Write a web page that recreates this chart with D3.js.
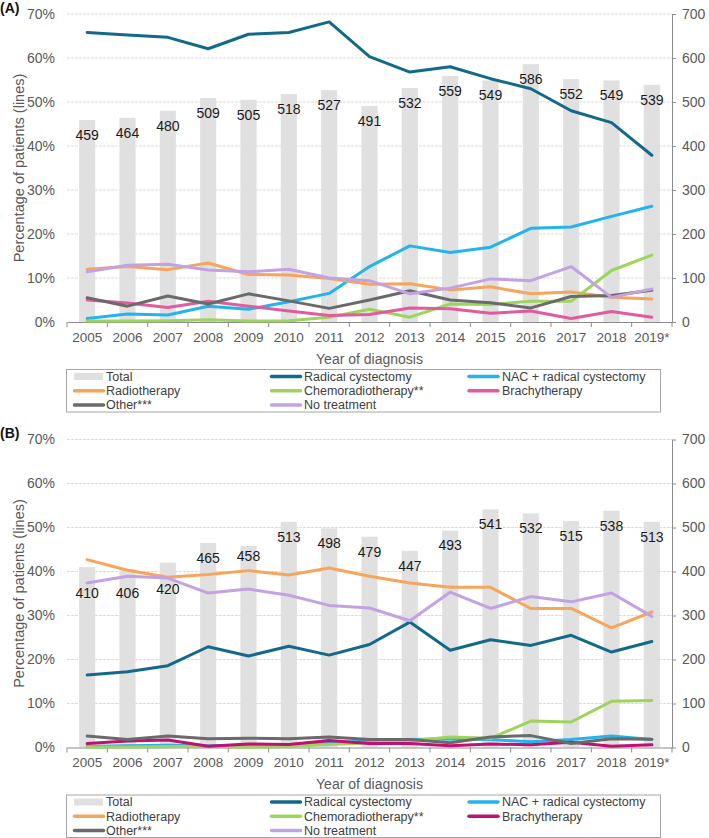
<!DOCTYPE html>
<html>
<head>
<meta charset="utf-8">
<script src="https://cdn.jsdelivr.net/npm/d3@7/dist/d3.min.js"></script>
<style>
  html, body { margin: 0; padding: 0; background: #fff; }
  svg { display: block; font-family: "Liberation Sans", Arial, sans-serif; }
</style>
</head>
<body>
<svg id="chart" width="709" height="838"></svg>
<script>
// ---------- DATA ----------
const years = ["2005","2006","2007","2008","2009","2010","2011","2012","2013","2014","2015","2016","2017","2018","2019*"];
const pctTicks = [0,10,20,30,40,50,60,70];
const countTicks = [0,100,200,300,400,500,600,700];

// Panel A
const totalA   = [459,464,480,509,505,518,527,491,532,559,549,586,552,549,539];
const radicalA = [65.8,65.2,64.7,62.1,65.4,65.8,68.2,60.3,56.8,58.0,55.3,53.0,48.0,45.3,37.9];
const nacA     = [0.8,1.8,1.6,3.6,2.9,4.6,6.5,12.6,17.3,15.8,17.0,21.3,21.6,24.0,26.3];
const radioA   = [12.0,12.6,11.9,13.4,10.8,10.7,9.9,8.6,8.7,7.3,8.0,6.4,6.8,5.6,5.2];
const chemoA   = [0.2,0.2,0.3,0.5,0.2,0.3,1.1,2.9,1.1,4.1,4.0,4.7,4.7,11.7,15.2];
const brachyA  = [5.0,4.3,3.3,4.7,3.6,2.5,1.5,1.7,3.2,3.0,2.0,2.5,0.8,2.4,1.1];
const otherA   = [5.5,3.6,5.9,4.1,6.4,4.8,3.1,5.0,7.1,5.0,4.4,3.2,5.8,6.0,7.2];
const noTreatA = [11.4,12.9,13.1,11.8,11.4,12.0,10.0,9.4,6.4,7.7,9.8,9.4,12.6,5.6,7.5];

// Panel B
const totalB   = [410,406,420,465,458,513,498,479,447,493,541,532,515,538,513];
const radicalB = [16.5,17.2,18.6,22.9,20.8,23.0,21.0,23.4,28.5,22.1,24.5,23.2,25.5,21.7,24.1];
const nacB     = [0.3,0.4,0.5,0.4,0.5,0.5,1.0,1.5,1.8,2.0,1.8,1.3,1.8,2.6,1.8];
const radioB   = [42.7,40.3,38.7,39.3,40.2,39.2,40.8,38.9,37.4,36.4,36.4,31.6,31.6,27.2,30.8];
const chemoB   = [0.1,0.1,0.2,0.3,0.1,0.2,0.7,1.0,1.5,2.4,2.1,6.0,5.8,10.5,10.7];
const brachyB  = [0.9,1.5,1.7,0.3,0.8,0.7,1.6,0.9,0.9,0.4,0.8,0.6,1.2,0.3,0.6];
const otherB   = [2.6,1.8,2.6,2.0,2.1,2.0,2.4,1.8,1.8,1.1,2.4,2.7,0.9,2.0,1.9];
const noTreatB = [37.4,38.9,38.5,35.1,36.0,34.6,32.3,31.7,28.8,35.3,31.6,34.3,33.1,35.1,29.8];

const seriesNames = ["Radical cystectomy","NAC + radical cystectomy","Radiotherapy","Chemoradiotherapy**","Brachytherapy","Other***","No treatment"];

// ---------- LAYOUT / STYLE ----------
const plotLeft = 67, plotRight = 672, plotH = 308;
const panelTops = [14, 439.5];
const colors = {
  total: "#e0e0e0",
  radical: "#12698a",
  nac: "#22b4ea",
  radio: "#f6a55a",
  chemo: "#9dd45c",
  brachyA: "#e25b9f",
  brachyB: "#c10f74",
  other: "#6a6a6a",
  noTreat: "#c2a2e2"
};
// label vertical nudges (panel B, first years placed lower in the original)
const labelNudgeA = new Array(15).fill(0);
const labelNudgeB = [11,9,11,0,-5,0,0,0,0,0,0,0,0,0,0];

const svg = d3.select("#chart");

function drawPanel(top, tag, totals, series, nudges) {
  const g = svg.append("g");
  const x = d3.scaleBand().domain(years).range([plotLeft, plotRight]).paddingInner(0).paddingOuter(0);
  const y = d3.scaleLinear().domain([0,70]).range([top + plotH, top]);
  const yc = d3.scaleLinear().domain([0,700]).range([top + plotH, top]);
  const barW = x.bandwidth() * 0.4;

  // gridlines
  g.append("g").selectAll("line").data(pctTicks.filter(d => d > 0)).join("line")
    .attr("x1", plotLeft).attr("x2", plotRight)
    .attr("y1", d => y(d)).attr("y2", d => y(d))
    .attr("stroke", "#dcdcdc").attr("stroke-width", 1).attr("stroke-dasharray", "3,1");

  // bars
  g.append("g").selectAll("rect").data(totals).join("rect")
    .attr("x", (d,i) => x(years[i]) + (x.bandwidth() - barW) / 2)
    .attr("width", barW)
    .attr("y", d => yc(d))
    .attr("height", d => yc(0) - yc(d))
    .attr("fill", colors.total);

  // bar labels
  g.append("g").selectAll("text").data(totals).join("text")
    .attr("x", (d,i) => x(years[i]) + x.bandwidth() / 2)
    .attr("y", (d,i) => yc(d) + 15 + nudges[i])
    .attr("dy", "0.35em")
    .attr("text-anchor", "middle")
    .attr("font-size", "14px")
    .attr("fill", "#1a1a1a")
    .text(d => d);

  // left axis (labels only)
  const la = g.append("g").attr("transform", `translate(${plotLeft},0)`)
    .call(d3.axisLeft(y).tickValues(pctTicks).tickFormat(d => d + "%").tickSize(0).tickPadding(12));
  la.select(".domain").remove();
  la.selectAll("text").attr("font-size", "14px").attr("fill", "#595959").attr("font-family", "Liberation Sans, Arial, sans-serif");

  // right axis
  const ra = g.append("g").attr("transform", `translate(${plotRight},0)`)
    .call(d3.axisRight(yc).tickValues(countTicks).tickSize(4).tickSizeOuter(0).tickPadding(6));
  ra.select(".domain").attr("stroke", "#8c8c8c");
  ra.selectAll(".tick line").attr("stroke", "#8c8c8c");
  ra.selectAll("text").attr("font-size", "14px").attr("fill", "#595959").attr("font-family", "Liberation Sans, Arial, sans-serif");

  // bottom axis
  const ba = g.append("g").attr("transform", `translate(0,${top + plotH})`)
    .call(d3.axisBottom(x).tickSize(0).tickPadding(10));
  ba.select(".domain").attr("stroke", "#8c8c8c");
  ba.selectAll("text").attr("font-size", "13.5px").attr("fill", "#595959").attr("font-family", "Liberation Sans, Arial, sans-serif");
  const bounds = years.map(yr => x(yr)).concat([plotRight]);
  ba.append("g").selectAll("line").data(bounds).join("line")
    .attr("x1", d => d).attr("x2", d => d).attr("y1", 0).attr("y2", 5)
    .attr("stroke", "#8c8c8c");

  // lines
  const line = d3.line().x((d,i) => x(years[i]) + x.bandwidth() / 2).y(d => y(d));
  g.append("g").selectAll("path").data(series).join("path")
    .attr("d", s => line(s.values))
    .attr("fill", "none")
    .attr("stroke", s => s.color)
    .attr("stroke-width", 3)
    .attr("stroke-linejoin", "round")
    .attr("stroke-linecap", "round");

  // panel tag
  g.append("text").attr("x", 0).attr("y", top - 6).attr("dy", "0.35em")
    .attr("font-weight", "bold").attr("font-size", "14px").attr("fill", "#111")
    .text(tag);

  // y title
  g.append("text")
    .attr("transform", `translate(19,${top + plotH / 2}) rotate(-90)`)
    .attr("text-anchor", "middle").attr("dy", "0.35em")
    .attr("font-size", "14.5px").attr("fill", "#595959")
    .text("Percentage of patients (lines)");

  // x title
  g.append("text")
    .attr("x", (plotLeft + plotRight) / 2).attr("y", top + 345).attr("dy", "0.35em")
    .attr("text-anchor", "middle").attr("font-size", "14px").attr("fill", "#595959")
    .text("Year of diagnosis");

  // legend
  const lg = g.append("g");
  const lgTop = top + 355.5;
  const rowH = 14.2;
  lg.append("rect").attr("x", 66.5).attr("y", lgTop).attr("width", 594).attr("height", 42.5)
    .attr("fill", "none").attr("stroke", "#a6a6a6").attr("stroke-width", 1);
  const items = [{name: "Total", color: colors.total, bar: true}].concat(series);
  const colX = [73, 270, 467.5];
  const textX = [106, 304, 502];
  items.forEach((it, k) => {
    const r = Math.floor(k / 3), c = k % 3;
    const cy = lgTop + 7 + r * rowH;
    if (it.bar) {
      lg.append("rect").attr("x", colX[c] + 1).attr("y", cy - 3.5).attr("width", 29).attr("height", 7).attr("fill", it.color);
    } else {
      lg.append("line").attr("x1", colX[c] + 1.5).attr("x2", colX[c] + 30.5).attr("y1", cy).attr("y2", cy)
        .attr("stroke", it.color).attr("stroke-width", 3.5).attr("stroke-linecap", "round");
    }
    lg.append("text").attr("x", textX[c]).attr("y", cy).attr("dy", "0.35em")
      .attr("font-size", "12.5px").attr("fill", "#404040").text(it.name);
  });
}

const seriesA = [
  {name: seriesNames[0], color: colors.radical, values: radicalA},
  {name: seriesNames[1], color: colors.nac, values: nacA},
  {name: seriesNames[2], color: colors.radio, values: radioA},
  {name: seriesNames[3], color: colors.chemo, values: chemoA},
  {name: seriesNames[4], color: colors.brachyA, values: brachyA},
  {name: seriesNames[5], color: colors.other, values: otherA},
  {name: seriesNames[6], color: colors.noTreat, values: noTreatA}
];
const seriesB = [
  {name: seriesNames[0], color: colors.radical, values: radicalB},
  {name: seriesNames[1], color: colors.nac, values: nacB},
  {name: seriesNames[2], color: colors.radio, values: radioB},
  {name: seriesNames[3], color: colors.chemo, values: chemoB},
  {name: seriesNames[4], color: colors.brachyB, values: brachyB},
  {name: seriesNames[5], color: colors.other, values: otherB},
  {name: seriesNames[6], color: colors.noTreat, values: noTreatB}
];

drawPanel(panelTops[0], "(A)", totalA, seriesA, labelNudgeA);
drawPanel(panelTops[1], "(B)", totalB, seriesB, labelNudgeB);
</script>
</body>
</html>
